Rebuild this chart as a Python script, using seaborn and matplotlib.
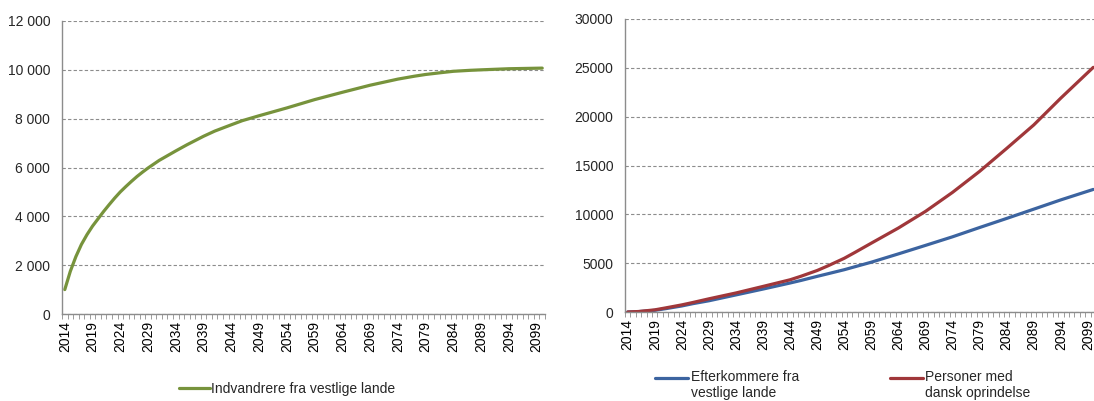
import matplotlib
matplotlib.use("Agg")
import matplotlib.pyplot as plt
from matplotlib.ticker import FuncFormatter, FixedLocator, MultipleLocator
from matplotlib.legend_handler import HandlerLine2D
import seaborn as sns
import pandas as pd

# Left panel: immigrants from western countries
years_left = [2014, 2015, 2016, 2017, 2018, 2019, 2020, 2021, 2022, 2023, 2024, 2025,
              2026, 2027, 2028, 2029, 2031, 2034, 2036, 2039, 2041, 2044, 2046,
              2049, 2054, 2059, 2064, 2069, 2074, 2077, 2079, 2082, 2084, 2087,
              2089, 2094, 2100]
indvandrere = [1000, 1750, 2350, 2850, 3250, 3600, 3900, 4200, 4480, 4750, 5000, 5220,
               5430, 5630, 5810, 5980, 6290, 6680, 6930, 7280, 7490, 7750, 7920,
               8120, 8440, 8780, 9080, 9370, 9620, 9740, 9810, 9890, 9940, 9980,
               10000, 10045, 10070]

# Right panel: descendants and persons of Danish origin
years_right = [2014, 2016, 2019, 2021, 2024, 2026, 2029, 2034, 2039, 2044, 2046,
               2049, 2051, 2054, 2056, 2059, 2064, 2069, 2074, 2079, 2084, 2089,
               2094, 2100]
efterkommere = [0, 40, 170, 340, 620, 850, 1150, 1750, 2350, 2970, 3230,
                3650, 3920, 4330, 4640, 5100, 5950, 6820, 7700, 8650, 9580, 10530,
                11480, 12550]
dansk = [0, 50, 220, 420, 730, 970, 1350, 1950, 2620, 3300, 3660,
         4250, 4730, 5500, 6110, 7050, 8600, 10300, 12250, 14400, 16750, 19150,
         21900, 25050]

label_years = list(range(2014, 2100, 5))

GREEN = "#77933C"
BLUE = "#3C64A0"
RED = "#A0373A"
GRID = "#8c8c8c"

sns.set_style("white")
plt.rcParams["font.family"] = ["Liberation Sans", "DejaVu Sans"]
plt.rcParams["font.size"] = 10


class TopLineHandler(HandlerLine2D):
    # put the legend line next to the first text line, like Excel does
    def create_artists(self, legend, orig_handle, xdescent, ydescent,
                       width, height, fontsize, trans):
        artists = super().create_artists(legend, orig_handle, xdescent, ydescent,
                                         width, height, fontsize, trans)
        for a in artists:
            a.set_ydata([y + 0.58 * fontsize for y in a.get_ydata()])
        return artists


fig = plt.figure(figsize=(10.94, 4.01), dpi=100)
ax1 = fig.add_axes([62 / 1094, 1 - 314 / 401, 483 / 1094, 293 / 401])
ax2 = fig.add_axes([625 / 1094, 1 - 312 / 401, 471 / 1094, 293 / 401])

df_left = pd.DataFrame({"year": years_left, "value": indvandrere,
                        "serie": "Indvandrere fra vestlige lande"})
df_right = pd.concat([
    pd.DataFrame({"year": years_right, "value": efterkommere,
                  "serie": "Efterkommere fra\nvestlige lande"}),
    pd.DataFrame({"year": years_right, "value": dansk,
                  "serie": "Personer med\ndansk oprindelse"}),
])

sns.lineplot(data=df_left, x="year", y="value", hue="serie", palette=[GREEN],
             lw=2.3, ax=ax1)
sns.lineplot(data=df_right, x="year", y="value", hue="serie",
             palette=[BLUE, RED], lw=2.3, ax=ax2)


def style_axis(ax, ymax, step, fmt):
    ax.set_xlim(2013.5, 2100.5)
    ax.set_ylim(0, ymax)
    ax.yaxis.set_major_locator(MultipleLocator(step))
    ax.yaxis.set_major_formatter(FuncFormatter(fmt))
    ax.xaxis.set_major_locator(FixedLocator(label_years))
    ax.xaxis.set_minor_locator(FixedLocator([y + 0.5 for y in range(2013, 2101)]))
    ax.tick_params(axis="x", which="major", length=0, rotation=90, pad=5,
                   labelsize=10, colors="black")
    ax.tick_params(axis="x", which="minor", length=3.5, color=GRID,
                   direction="out", bottom=True)
    ax.tick_params(axis="y", length=0, pad=8.5, labelsize=10)
    ax.set_xlabel("")
    ax.set_ylabel("")
    ax.grid(axis="y", color=GRID, linestyle=(0, (3, 2)), lw=0.8)
    ax.set_axisbelow(True)
    for s in ["top", "right"]:
        ax.spines[s].set_visible(False)
    for s in ["left", "bottom"]:
        ax.spines[s].set_color(GRID)
        ax.spines[s].set_linewidth(1.0)


style_axis(ax1, 12000, 2000, lambda v, p: f"{int(v):,}".replace(",", " "))
style_axis(ax2, 30000, 5000, lambda v, p: f"{int(v)}")

ax1.legend(loc="center", bbox_to_anchor=(0.466, -0.255), frameon=False,
           handlelength=2.2, handletextpad=0.05, fontsize=10)
ax2.legend(loc="center", bbox_to_anchor=(0.463, -0.25), frameon=False, ncol=2,
           handlelength=2.35, handletextpad=0.2, columnspacing=6.55, fontsize=10,
           labelspacing=0.2, borderpad=0.2,
           handler_map={matplotlib.lines.Line2D: TopLineHandler()})

fig.savefig("out.png", dpi=100)
